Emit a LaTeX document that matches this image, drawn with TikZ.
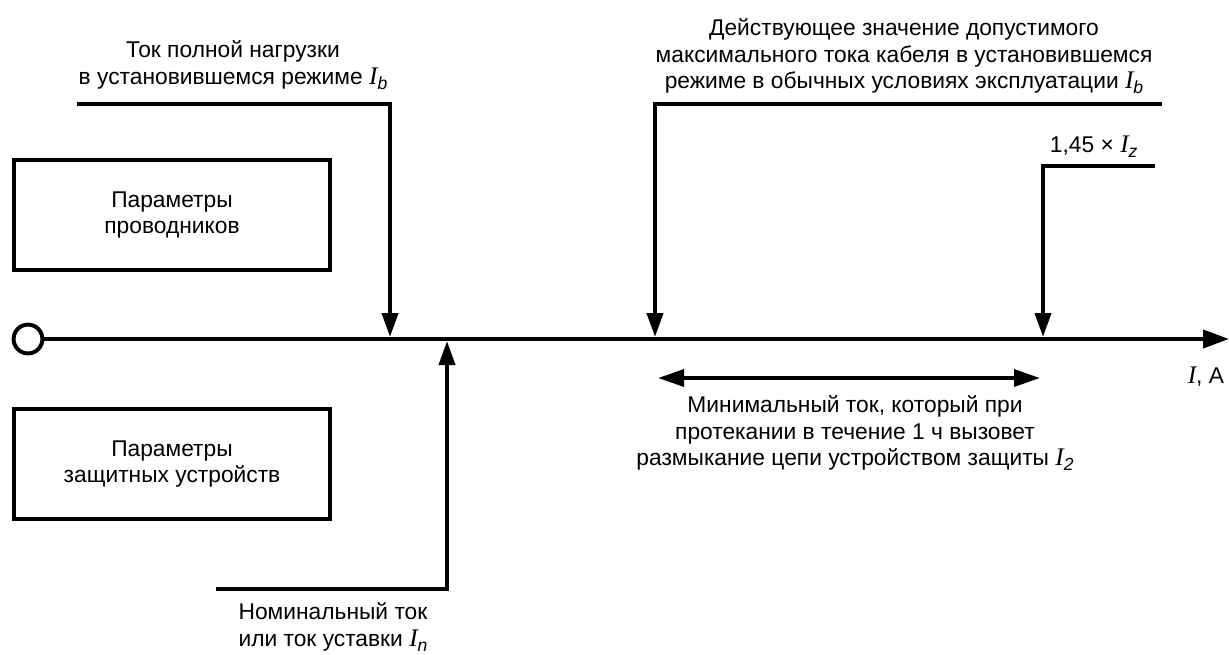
\documentclass[tikz,border=0pt]{standalone}
\usepackage{fontspec}
\setmainfont{Liberation Sans}
\newfontfamily\serifcur{Liberation Serif}
\newcommand{\curI}{{\serifcur\itshape\fontsize{18}{18}\selectfont I}}
\newcommand{\cur}[1]{\curI\raisebox{-0.45ex}{\fontsize{12.5}{12.5}\selectfont\itshape #1}}
\usetikzlibrary{arrows.meta}

\begin{document}
\begin{tikzpicture}[x=0.025cm, y=-0.025cm, line width=2.8pt,
	txt/.style={align=center, inner sep=0pt, font=\fontsize{16.2}{18.6}\selectfont},
	param/.style={txt, shape=rectangle, draw, line width=2.8pt, minimum width=7.9cm, minimum height=2.75cm},
	down/.style={-{Triangle[length=0.6cm, width=0.4cm]}},
	both/.style={{Triangle[length=0.65cm, width=0.42cm]}-{Triangle[length=0.65cm, width=0.42cm]}}]
	\useasboundingbox (0, 0) rectangle (1229, 654);
	% Paths, nodes and wires:
	\node[param] (cond) at (172, 215){Параметры\\проводников};
	\node[param] (prot) at (172, 464){Параметры\\защитных устройств};
	\node[shape=circle, draw, line width=2.8pt, minimum size=0.72cm, inner sep=0pt] (zero) at (28, 339){};
	\coordinate (axisEnd) at (1229, 339);
	\draw[-{Triangle[length=0.65cm, width=0.45cm]}] (zero.east) -- (axisEnd);
	\node[txt, anchor=base east] (axisLbl) at (1226, 383){\curI, A};
	% Ib
	\node[txt, anchor=north] (ibLbl) at (233, 39){Ток полной нагрузки\\в установившемся режиме \cur{b}};
	\coordinate (ibStart) at (77, 104);
	\coordinate (ibTip) at (390, 337);
	\draw[down] (ibStart) -| (ibTip);
	% In
	\node[txt, anchor=north] (inLbl) at (333, 601){Номинальный ток\\или ток уставки \cur{n}};
	\coordinate (inStart) at (216, 589);
	\coordinate (inTip) at (447, 341);
	\draw[down] (inStart) -| (inTip);
	% Iz
	\node[txt, anchor=north] (izLbl) at (904, 17){Действующее значение допустимого\\максимального тока кабеля в установившемся\\режиме в обычных условиях эксплуатации \cur{b}};
	\coordinate (izStart) at (1162, 104);
	\coordinate (izTip) at (655, 337);
	\draw[down] (izStart) -| (izTip);
	% 1,45 Iz
	\node[txt, anchor=base west] (ovLbl) at (1048, 152){1,45 × \cur{z}};
	\coordinate (ovStart) at (1155, 166);
	\coordinate (ovTip) at (1043, 337);
	\draw[down] (ovStart) -| (ovTip);
	% I2
	\coordinate (i2Left) at (658, 378);
	\coordinate (i2Right) at (1040, 378);
	\draw[both] (i2Left) -- (i2Right);
	\node[txt, anchor=north] (i2Lbl) at (855, 394){Минимальный ток, который при\\протекании в течение 1 ч вызовет\\размыкание цепи устройством защиты \cur{2}};
\end{tikzpicture}
\end{document}
